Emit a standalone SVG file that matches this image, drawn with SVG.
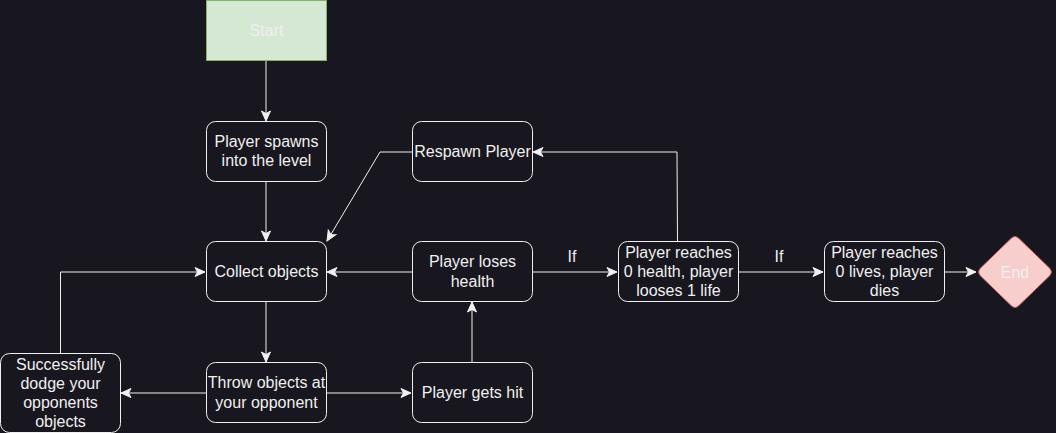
<svg xmlns="http://www.w3.org/2000/svg" width="1056" height="433" viewBox="0 0 1056 433">
<style>
.bg{fill:#18161e}
.box{fill:#18161e;stroke:#f0f0f0;stroke-width:1}
.t{font-family:"Liberation Sans",Arial,sans-serif;font-size:16px;fill:#f0f0f0;text-anchor:middle;dominant-baseline:central}
.e{fill:none;stroke:#f0f0f0;stroke-width:1;marker-end:url(#arr)}
</style>
<defs>
<marker id="arr" markerUnits="userSpaceOnUse" markerWidth="12" markerHeight="12" viewBox="0 0 12 12" refX="11" refY="6" orient="auto">
<path d="M1,1.5 L11,6 L1,10.5 L3.5,6 Z" fill="#f0f0f0" stroke="#f0f0f0" stroke-width="1"/>
</marker>
</defs>
<rect class="bg" x="0" y="0" width="1056" height="433"/>
<g id="connectors">
<path class="e" d="M266,60.5 V121"/>
<path class="e" d="M266,181.5 V241"/>
<path class="e" d="M266,301.5 V362"/>
<path class="e" d="M206,393 H121"/>
<path class="e" d="M326,393 H411"/>
<path class="e" d="M472,363 V302"/>
<path class="e" d="M412,272 H327"/>
<path class="e" d="M532,272 H617"/>
<path class="e" d="M738,272 H823"/>
<path class="e" d="M944,272 H976"/>
<path class="e" d="M677.5,242 L677,152 H533"/>
<path class="e" d="M412,152 H380 L327,241"/>
<path class="e" d="M60.5,354 V272 H205"/>
<text class="t" x="572" y="256">If</text>
<text class="t" x="779" y="256">If</text>
</g>
<g id="start">
<rect x="206.5" y="0.5" width="120" height="60" fill="#d5e8d4" stroke="#82b366"/>
<text class="t" x="266.5" y="30.5">Start</text>
</g>
<g id="spawn">
<rect class="box" x="206.5" y="121.5" width="120" height="60" rx="9"/>
<text class="t" x="266.5" y="141.5">Player spawns</text>
<text class="t" x="266.5" y="160.7">into the level</text>
</g>
<g id="collect">
<rect class="box" x="206.5" y="241.5" width="120" height="60" rx="9"/>
<text class="t" x="266.5" y="271.5">Collect objects</text>
</g>
<g id="throw">
<rect class="box" x="206.5" y="362.5" width="120" height="60" rx="9"/>
<text class="t" x="266.5" y="382.9">Throw objects at</text>
<text class="t" x="266.5" y="402.1">your opponent</text>
</g>
<g id="dodge">
<rect class="box" x="0.5" y="353.5" width="120" height="79" rx="9"/>
<text class="t" x="60.5" y="364.2">Successfully</text>
<text class="t" x="60.5" y="383.4">dodge your</text>
<text class="t" x="60.5" y="402.6">opponents</text>
<text class="t" x="60.5" y="421.8">objects</text>
</g>
<g id="respawn">
<rect class="box" x="412.5" y="121.5" width="120" height="60" rx="9"/>
<text class="t" x="472.5" y="151.5">Respawn Player</text>
</g>
<g id="loses">
<rect class="box" x="412.5" y="241.5" width="120" height="60" rx="9"/>
<text class="t" x="472.5" y="261.9">Player loses</text>
<text class="t" x="472.5" y="281.1">health</text>
</g>
<g id="hit">
<rect class="box" x="412.5" y="362.5" width="120" height="60" rx="9"/>
<text class="t" x="472.5" y="392.5">Player gets hit</text>
</g>
<g id="zerohealth">
<rect class="box" x="618.5" y="241.5" width="120" height="60" rx="9"/>
<text class="t" x="678.5" y="252.3">Player reaches</text>
<text class="t" x="678.5" y="271.5">0 health, player</text>
<text class="t" x="678.5" y="290.7">looses 1 life</text>
</g>
<g id="zerolives">
<rect class="box" x="824.5" y="241.5" width="120" height="60" rx="9"/>
<text class="t" x="884.5" y="252.3">Player reaches</text>
<text class="t" x="884.5" y="271.5">0 lives, player</text>
<text class="t" x="884.5" y="290.7">dies</text>
</g>
<g id="end">
<path d="M1015,236.5 Q1017,236.5 1019,238.5 L1050,268.5 Q1053,272 1050,275.5 L1019,305.5 Q1017,307.5 1015,307.5 Q1013,307.5 1011,305.5 L980,275.5 Q977,272 980,268.5 L1011,238.5 Q1013,236.5 1015,236.5 Z" fill="#f8cecc" stroke="#b85450"/>
<text class="t" x="1015" y="272">End</text>
</g>
</svg>
